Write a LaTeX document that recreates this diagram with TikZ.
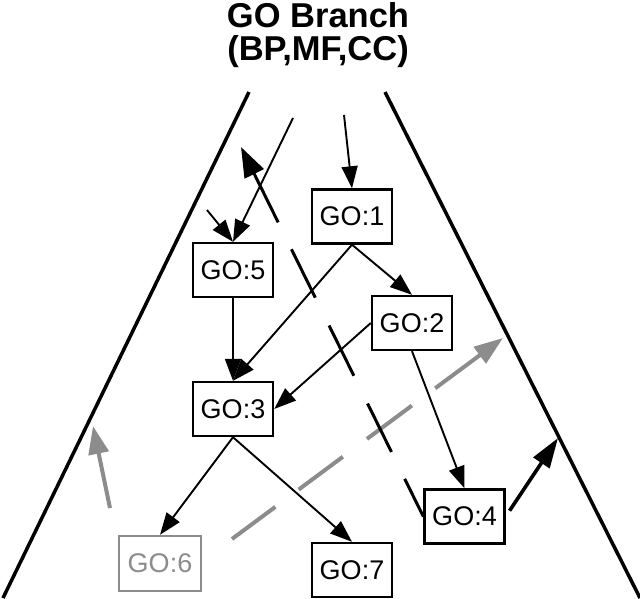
\documentclass[tikz,border=0pt]{standalone}
\usepackage{fontspec}
\setmainfont{Liberation Sans}
\usetikzlibrary{arrows.meta}
\definecolor{fadegray}{HTML}{8C8C8C}
\begin{document}
\begin{tikzpicture}[x=1pt,y=-1pt,
  gobox/.style={draw=black,line width=2.4pt,minimum width=80pt,minimum height=54pt,inner sep=0pt,
    font=\fontsize{27}{30}\selectfont,fill=white},
  fadebox/.style={gobox,draw=fadegray,text=fadegray},
  titletext/.style={anchor=base,font=\fontsize{34.5}{40}\selectfont\bfseries},
  edge/.style={line width=1.9pt,-{Triangle[length=22pt,width=16pt]}},
  heavy/.style={line width=3.6pt,-{Triangle[length=30pt,width=19pt]}},
  cutdash/.style={line width=3pt,
    dash pattern=on 42pt off 30pt on 54pt off 31pt on 56pt off 31pt on 54pt off 30pt on 140pt off 1pt,
    -{Triangle[length=30pt,width=21pt]}},
  graydash/.style={draw=fadegray,line width=4pt,
    dash pattern=on 54pt off 29pt on 55pt off 30pt on 56pt off 29pt on 120pt off 1pt,
    -{Triangle[length=29pt,width=20pt]}},
  grayarrow/.style={draw=fadegray,line width=4pt,-{Triangle[length=28pt,width=20pt]}},
  side/.style={line width=3.5pt}
]
\useasboundingbox (0,0) rectangle (640,598);

% title
\node[titletext] (t1) at (318,27) {GO Branch};
\node[titletext] (t2) at (318,60) {(BP,MF,CC)};

% branch sides
\coordinate (lt) at (249,92);
\coordinate (lb) at (3,598);
\coordinate (rt) at (385,92);
\coordinate (rb) at (640,598);
\draw[side] (lt) -- (lb);
\draw[side] (rt) -- (rb);

% terms
\node[gobox] (go1) at (352,216.5) {GO:1};
\node[gobox] (go5) at (233,270) {GO:5};
\node[gobox] (go2) at (412,323) {GO:2};
\node[gobox] (go3) at (233,409) {GO:3};
\node[gobox] (go4) at (464.5,516.5) {GO:4};
\node[fadebox,minimum width=82pt,minimum height=55pt] (go6) at (160,563.5) {GO:6};
\node[gobox] (go7) at (352,570) {GO:7};

% free ends
\coordinate (in1) at (344,115);
\coordinate (in5a) at (207,210);
\coordinate (in5b) at (293,118);
\coordinate (cut) at (241,147);
\coordinate (exit4) at (558,438);
\coordinate (ga) at (232,539);
\coordinate (gb) at (503,338);
\coordinate (gc) at (110,508);
\coordinate (gd) at (93,426);

% gray moves
\draw[graydash] (ga) -- (gb);
\draw[grayarrow] (gc) -- (gd);

% cut line
\draw[cutdash] (go4.west) -- (cut);

% edges
\draw[edge] (in1) -- (go1.north);
\draw[edge] (in5a) -- (go5.north);
\draw[edge] (in5b) -- (go5.north);
\draw[edge] (go1.south) -- (go2.north);
\draw[edge] (go1.south) -- (go3.north);
\draw[edge] (go5.south) -- (go3.north);
\draw[edge] (go2.west) -- (go3.east);
\draw[edge] (go2.south) -- (go4.north);
\draw[edge] (go3.south) -- (go6.north);
\draw[edge] (go3.south) -- (go7.north);
\draw[heavy,shorten <=7pt] (go4.east) -- (exit4);
\end{tikzpicture}
\end{document}
